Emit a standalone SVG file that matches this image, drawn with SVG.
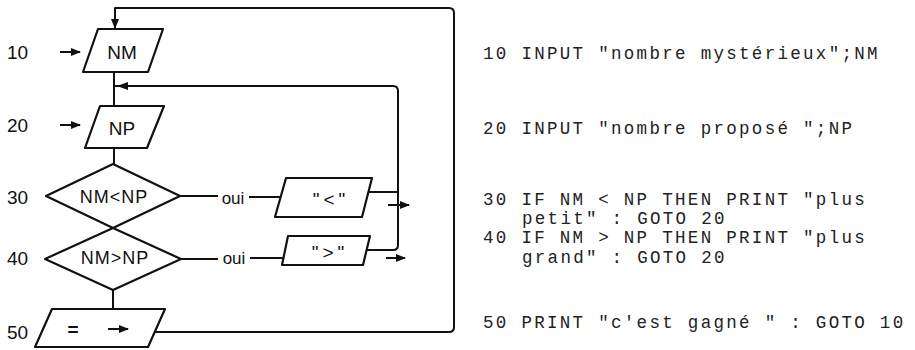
<svg xmlns="http://www.w3.org/2000/svg" width="915" height="350" viewBox="0 0 915 350">
<style>
.sh{fill:#fff;stroke:#111;stroke-width:2.2;stroke-linejoin:round}
.ln{fill:none;stroke:#111;stroke-width:2;stroke-linejoin:round}
.t{font-family:"Liberation Sans",Arial,sans-serif;font-size:19px;fill:#111;text-anchor:middle;dominant-baseline:central}
.lb{font-family:"Liberation Sans",Arial,sans-serif;font-size:19px;fill:#111}
.code{font-family:"Liberation Mono","Courier New",monospace;font-size:17.5px;letter-spacing:2.3px;fill:#222}
</style>
<defs>
<marker id="ah" viewBox="0 0 10 8" refX="9" refY="4" markerWidth="10" markerHeight="8" markerUnits="userSpaceOnUse" orient="auto"><path d="M0,0 L10,4 L0,8 z" fill="#111"/></marker>
</defs>
<rect width="915" height="350" fill="#fff"/>
<g id="connectors">
<path class="ln" d="M155,332 H449 Q454,332 454,327 V13 Q454,8 449,8 H115 V28" marker-end="url(#ah)"/>
<path class="ln" d="M114,72 V106"/>
<path class="ln" d="M114,148 V164"/>
<path class="ln" d="M113,290 V309"/>
<path class="ln" d="M367,250 H393 Q398,250 398,245 V91 Q398,86 393,86 H114"/>
<polygon points="117,86 128,82 128,90" fill="#111"/>
<path class="ln" d="M368,192 H398"/>
<path class="ln" d="M388,205 H409" marker-end="url(#ah)"/>
<path class="ln" d="M386,258 H405" marker-end="url(#ah)"/>
<path class="ln" d="M180,196 H218"/>
<path class="ln" d="M249,197 H280"/>
<path class="ln" d="M181,259 H218"/>
<path class="ln" d="M250,258 H284"/>
<path class="ln" d="M60,52 H80" marker-end="url(#ah)"/>
<path class="ln" d="M60,125 H80" marker-end="url(#ah)"/>
</g>
<g id="labels">
<text class="lb" x="7" y="59">10</text>
<text class="lb" x="7" y="132">20</text>
<text class="lb" x="7" y="204">30</text>
<text class="lb" x="7" y="265">40</text>
<text class="lb" x="7" y="339">50</text>
</g>
<g id="n10">
<polygon class="sh" points="98,29 163,29 148,72 83,72"/>
<text class="t" x="122" y="52">NM</text>
</g>
<g id="n20">
<polygon class="sh" points="100,106 164,106 147,148 85,148"/>
<text class="t" x="122" y="128">NP</text>
</g>
<g id="n30">
<polygon class="sh" points="113,164 180,196 113,228 46,196"/>
<text class="t" x="114" y="197" style="font-size:18px;letter-spacing:1px">NM&lt;NP</text>
</g>
<g id="n40">
<polygon class="sh" points="113,228 181,259 113,290 45,259"/>
<text class="t" x="115" y="258" style="font-size:18px;letter-spacing:1px">NM&gt;NP</text>
</g>
<g id="n50">
<polygon class="sh" points="52,309 165,309 148,347 35,347"/>
<text class="t" x="73" y="329" style="font-weight:bold">=</text>
<path class="ln" d="M108,329 H128" marker-end="url(#ah)"/>
</g>
<g id="oui1"><text class="t" x="233" y="198" style="font-size:17px">oui</text></g>
<g id="oui2"><text class="t" x="234" y="258" style="font-size:17px">oui</text></g>
<g id="box-lt">
<polygon class="sh" points="286,178 372,178 362,217 275,217"/>
<text class="t" x="331" y="199" style="letter-spacing:4px">"&lt;"</text>
</g>
<g id="box-gt">
<polygon class="sh" points="288,236 370,236 363,265 282,265"/>
<text class="t" x="330" y="252" style="letter-spacing:4px">"&gt;"</text>
</g>
<g id="code" xml:space="preserve">
<text class="code" x="483" y="59">10 INPUT "nombre mystérieux";NM</text>
<text class="code" x="483" y="134">20 INPUT "nombre proposé ";NP</text>
<text class="code" x="483" y="205">30 IF NM &lt; NP THEN PRINT "plus</text>
<text class="code" x="522" y="224">petit" : GOTO 20</text>
<text class="code" x="483" y="243">40 IF NM &gt; NP THEN PRINT "plus</text>
<text class="code" x="522" y="263">grand" : GOTO 20</text>
<text class="code" x="483" y="328">50 PRINT "c'est gagné " : GOTO 10</text>
</g>
</svg>
